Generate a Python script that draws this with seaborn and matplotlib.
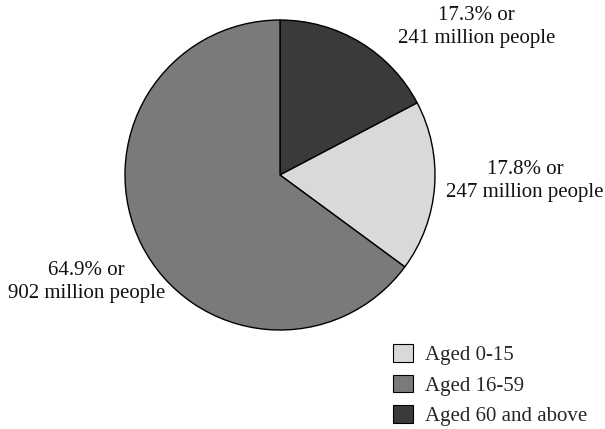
import matplotlib
matplotlib.use("Agg")
import matplotlib.pyplot as plt
from matplotlib.patches import Patch
import seaborn as sns

# Population by age group
categories = ["Aged 60 and above", "Aged 0-15", "Aged 16-59"]
shares = [17.3, 17.8, 64.9]
people_millions = [241, 247, 902]
legend_order = ["Aged 0-15", "Aged 16-59", "Aged 60 and above"]

sns.set_theme(style="white")
plt.rcParams["font.family"] = ["Liberation Serif", "DejaVu Serif"]

colors = {
    "Aged 0-15": "#d9d9d9",
    "Aged 16-59": "#7a7a7a",
    "Aged 60 and above": "#3a3a3a",
}

W, H = 605, 429
fig = plt.figure(figsize=(W / 100, H / 100), dpi=100)
cx, cy, r = 280, 175, 155
ax = fig.add_axes([(cx - r) / W, (H - cy - r) / H, 2 * r / W, 2 * r / H])

ax.pie(
    shares,
    colors=[colors[c] for c in categories],
    startangle=90,
    counterclock=False,
    radius=1,
    wedgeprops=dict(edgecolor="black", linewidth=1.0),
)
ax.set_xlim(-1, 1)
ax.set_ylim(-1, 1)
ax.set_aspect("auto")
ax.axis("off")

# Label placement for each wedge (data units, pie radius = 1)
label_pos = {
    "Aged 60 and above": (1.27, 0.955),
    "Aged 0-15": (1.58, -0.04),
    "Aged 16-59": (-1.25, -0.69),
}
for cat, pct, ppl in zip(categories, shares, people_millions):
    x, y = label_pos[cat]
    ax.text(x, y, f"{pct:.1f}% or\n{ppl} million people",
            ha="center", va="center", fontsize=15, linespacing=1.32,
            clip_on=False, color="#111111")

handles = [Patch(facecolor=colors[c], edgecolor="black", linewidth=0.8) for c in legend_order]
fig.legend(handles, legend_order, loc="upper left",
           bbox_to_anchor=(393 / W, 1 - 344 / H), frameon=False,
           fontsize=15, handlelength=0.95, handleheight=0.95,
           handletextpad=0.6, labelspacing=0.45, borderpad=0,
           borderaxespad=0)

fig.savefig("out.png", dpi=100, facecolor="white")
